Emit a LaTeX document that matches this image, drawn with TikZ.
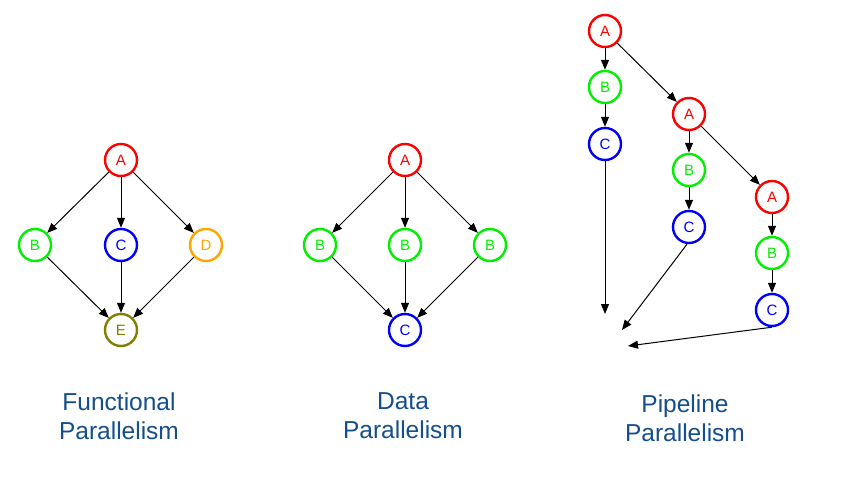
\documentclass[tikz,border=0pt]{standalone}
\usepackage{fontspec}
\setmainfont{Liberation Sans}
\usetikzlibrary{arrows.meta}
\definecolor{cred}{RGB}{255,0,0}
\definecolor{cgreen}{RGB}{0,240,0}
\definecolor{cblue}{RGB}{0,0,255}
\definecolor{corange}{RGB}{255,165,0}
\definecolor{colive}{RGB}{128,128,0}
\definecolor{ctitle}{RGB}{20,78,140}
\tikzset{
  vtx/.style={circle, draw=#1, text=#1, line width=2.4pt, minimum size=32pt, inner sep=0pt, font=\fontsize{15}{15}\selectfont},
  edge/.style={-{Triangle[length=10pt,width=8pt]}, line width=1pt, black},
  ttl/.style={text=ctitle, align=center, font=\fontsize{24.5}{29}\selectfont}
}
\begin{document}
\begin{tikzpicture}[x=1pt,y=-1pt]
\useasboundingbox (0,0) rectangle (842,476);
% Functional
\node[vtx=cred] (fa) at (121,160) {A};
\node[vtx=cgreen] (fb) at (35,245) {B};
\node[vtx=cblue] (fc) at (121,245) {C};
\node[vtx=corange] (fd) at (206,245) {D};
\node[vtx=colive] (fe) at (121,330) {E};
\draw[edge] (fa) -- (fb);
\draw[edge] (fa) -- (fc);
\draw[edge] (fa) -- (fd);
\draw[edge] (fb) -- (fe);
\draw[edge] (fc) -- (fe);
\draw[edge] (fd) -- (fe);
\node[ttl] (ft) at (119,416) {Functional\\Parallelism};
% Data
\node[vtx=cred] (da) at (405,160) {A};
\node[vtx=cgreen] (db1) at (320,245) {B};
\node[vtx=cgreen] (db2) at (405,245) {B};
\node[vtx=cgreen] (db3) at (490,245) {B};
\node[vtx=cblue] (dc) at (405,330) {C};
\draw[edge] (da) -- (db1);
\draw[edge] (da) -- (db2);
\draw[edge] (da) -- (db3);
\draw[edge] (db1) -- (dc);
\draw[edge] (db2) -- (dc);
\draw[edge] (db3) -- (dc);
\node[ttl] (dt) at (403,416) {Data\\Parallelism};
% Pipeline
\node[vtx=cred] (pa1) at (605,31) {A};
\node[vtx=cgreen] (pb1) at (605,87) {B};
\node[vtx=cblue] (pc1) at (605,144) {C};
\node[vtx=cred] (pa2) at (689,114) {A};
\node[vtx=cgreen] (pb2) at (689,170) {B};
\node[vtx=cblue] (pc2) at (689,227) {C};
\node[vtx=cred] (pa3) at (772,197) {A};
\node[vtx=cgreen] (pb3) at (772,253) {B};
\node[vtx=cblue] (pc3) at (772,310) {C};
\coordinate (e1) at (605,314);
\coordinate (e2) at (622,330);
\coordinate (e3) at (628,346);
\draw[edge] (pa1) -- (pb1);
\draw[edge] (pb1) -- (pc1);
\draw[edge] (pa1) -- (pa2);
\draw[edge] (pa2) -- (pb2);
\draw[edge] (pb2) -- (pc2);
\draw[edge] (pa2) -- (pa3);
\draw[edge] (pa3) -- (pb3);
\draw[edge] (pb3) -- (pc3);
\draw[edge] (pc1) -- (e1);
\draw[edge] (pc2.south) ++(-2,0) coordinate (s2) (s2) -- (e2);
\draw[edge] (pc3.south) -- (e3);
\node[ttl] (pt) at (685,418) {Pipeline\\Parallelism};
\end{tikzpicture}
\end{document}
